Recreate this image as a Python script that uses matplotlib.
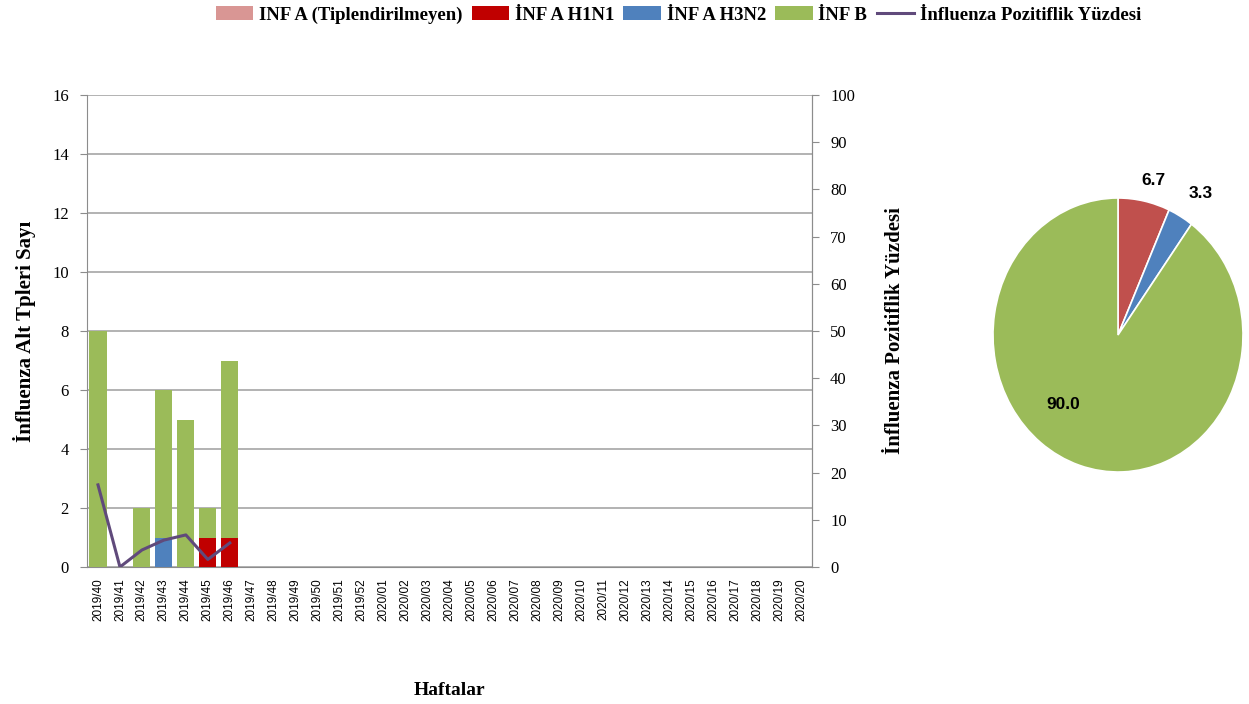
import matplotlib.pyplot as plt
import numpy as np

# Weekly data (2019/40 - 2020/20)
weeks = ['2019/%d' % w for w in range(40, 53)] + ['2020/%02d' % w for w in range(1, 21)]
untyped = [0, 0, 0, 0, 0, 0, 0]
h1n1 = [0, 0, 0, 0, 0, 1, 1]
h3n2 = [0, 0, 0, 1, 0, 0, 0]
inf_b = [8, 0, 2, 5, 5, 1, 6]
positivity = [17.4, 0.0, 3.6, 5.7, 6.8, 1.6, 5.1]

pie_values = [0.0, 6.7, 3.3, 90.0]
pie_colors = ['#D99694', '#C0504D', '#4F81BD', '#9BBB59']

n = len(weeks)
pad = n - len(inf_b)
untyped = np.array(untyped + [0] * pad, dtype=float)
h1n1 = np.array(h1n1 + [0] * pad, dtype=float)
h3n2 = np.array(h3n2 + [0] * pad, dtype=float)
inf_b = np.array(inf_b + [0] * pad, dtype=float)
positivity = np.array(positivity + [np.nan] * pad)

serif = 'Liberation Serif'
sans = 'Liberation Sans'
grey = '#8C8C8C'

fig = plt.figure(figsize=(12.49, 7.04), dpi=100)
ax = fig.add_axes([87 / 1249, 1 - 567 / 704, 725 / 1249, 472 / 704])
x = np.arange(n)
w = 0.78
b1 = ax.bar(x, untyped, w, color='#D99694', label='INF A (Tiplendirilmeyen)', zorder=3)
b2 = ax.bar(x, h1n1, w, bottom=untyped, color='#C00000', label='İNF A H1N1', zorder=3)
b3 = ax.bar(x, h3n2, w, bottom=untyped + h1n1, color='#4F81BD', label='İNF A H3N2', zorder=3)
b4 = ax.bar(x, inf_b, w, bottom=untyped + h1n1 + h3n2, color='#9BBB59', label='İNF B', zorder=3)

ax.set_xlim(-0.5, n - 0.5)
ax.set_ylim(0, 16)
ax.set_yticks(range(0, 17, 2))
ax.yaxis.grid(True, color='#A6A6A6', linewidth=1.2, zorder=0)
ax.set_xticks(x)
ax.set_xticklabels(weeks, rotation=90, fontsize=8.5, family=sans)
ax.tick_params(axis='x', length=0, pad=8)
ax.tick_params(axis='y', colors='black', labelsize=12, length=5, color=grey, pad=8)
for lab in ax.get_yticklabels():
    lab.set_family(serif)
ax.spines['top'].set_visible(False)
for s in ['left', 'bottom', 'right']:
    ax.spines[s].set_color(grey)
ax.set_ylabel('İnfluenza Alt Tpleri Sayı', family=serif, fontweight='bold', fontsize=15, labelpad=12)
ax.set_xlabel('Haftalar', family=serif, fontweight='bold', fontsize=14, labelpad=44)

ax2 = ax.twinx()
line, = ax2.plot(x, positivity, color='#604A7B', linewidth=2.2, label='İnfluenza Pozitiflik Yüzdesi', zorder=4)
ax2.set_ylim(0, 100)
ax2.set_yticks(range(0, 101, 10))
ax2.tick_params(axis='y', labelsize=12, length=5, color=grey, pad=8)
for lab in ax2.get_yticklabels():
    lab.set_family(serif)
for s in ['top', 'left', 'bottom']:
    ax2.spines[s].set_visible(False)
ax2.spines['right'].set_color(grey)
ax2.set_ylabel('İnfluenza Pozitiflik Yüzdesi', family=serif, fontweight='bold', fontsize=15, labelpad=22)

fig.legend(handles=[b1, b2, b3, b4, line], loc='upper center', bbox_to_anchor=(0.543, 1.015),
           ncol=5, frameon=False, handlelength=2.0, handletextpad=0.3, columnspacing=0.5,
           prop={'family': serif, 'weight': 'bold', 'size': 13.5})

# Pie chart
pax = fig.add_axes([993 / 1249, 1 - 472 / 704, 250 / 1249, 274 / 704])
wedges, _ = pax.pie(pie_values, colors=pie_colors, startangle=90, counterclock=False,
                    wedgeprops={'edgecolor': 'white', 'linewidth': 1.2})
pax.set_aspect('auto')
pax.set_xlim(-1, 1)
pax.set_ylim(-1, 1)
pax.text(-0.15, 0.79, '0.0', color='#9BBB59', fontsize=12.5, fontweight='bold', family=sans,
         ha='center', va='center', alpha=0.8)
pax.text(0.28, 1.13, '6.7', fontsize=12.5, fontweight='bold', family=sans, ha='center', va='center')
pax.text(0.66, 1.03, '3.3', fontsize=12.5, fontweight='bold', family=sans, ha='center', va='center')
pax.text(-0.44, -0.51, '90.0', fontsize=12.5, fontweight='bold', family=sans, ha='center', va='center')

fig.savefig('out.png', dpi=100)
